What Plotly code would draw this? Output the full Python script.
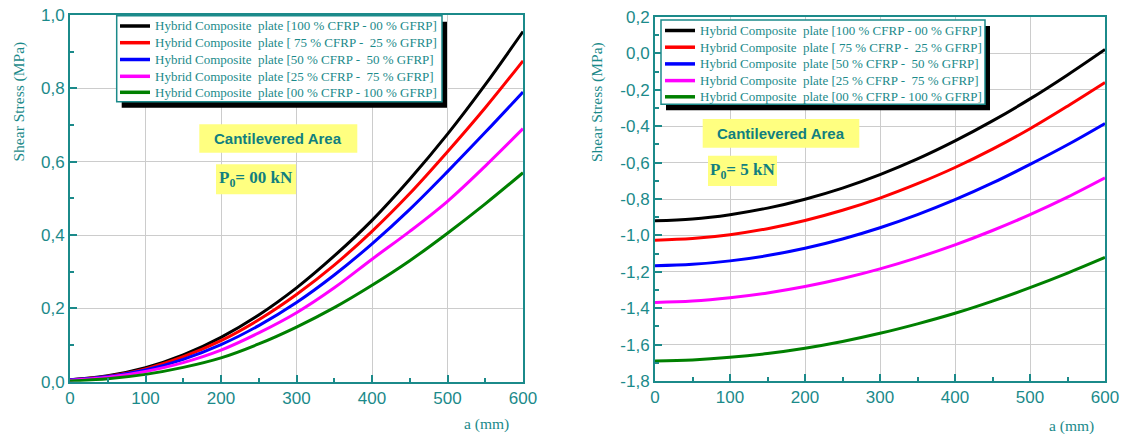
import plotly.graph_objects as go

# ---------------------------------------------------------------- data
a_mm = [0, 50, 100, 150, 200, 250, 300, 350, 400, 450, 500, 550, 600]

series_names = [
    "Hybrid Composite\u00a0 plate [100 % CFRP - 00 % GFRP]",
    "Hybrid Composite\u00a0 plate [ 75 % CFRP - \u00a025 % GFRP]",
    "Hybrid Composite\u00a0 plate [50 % CFRP - \u00a050 % GFRP]",
    "Hybrid Composite\u00a0 plate [25 % CFRP - \u00a075 % GFRP]",
    "Hybrid Composite\u00a0 plate [00 % CFRP - 100 % GFRP]",
]
series_colors = ["#000000", "#ff0000", "#0000ff", "#ff00ff", "#008000"]

# Shear stress (MPa), P0 = 00 kN
tau_p0_c100 = [0.005, 0.016, 0.038, 0.073, 0.121, 0.182, 0.256, 0.343, 0.440, 0.552, 0.675, 0.810, 0.955]
tau_p0_c75 = [0.005, 0.015, 0.035, 0.068, 0.112, 0.169, 0.238, 0.318, 0.410, 0.513, 0.627, 0.747, 0.875]
tau_p0_c50 = [0.005, 0.014, 0.032, 0.061, 0.101, 0.153, 0.216, 0.291, 0.376, 0.470, 0.573, 0.680, 0.790]
tau_p0_c25 = [0.004, 0.012, 0.028, 0.052, 0.086, 0.133, 0.188, 0.256, 0.334, 0.410, 0.492, 0.588, 0.690]
tau_p0_c00 = [0.002, 0.008, 0.020, 0.039, 0.065, 0.103, 0.149, 0.202, 0.263, 0.330, 0.405, 0.485, 0.570]

# Shear stress (MPa), P0 = 5 kN
tau_p5_c100 = [-0.920, -0.910, -0.886, -0.850, -0.801, -0.740, -0.666, -0.580, -0.481, -0.371, -0.250, -0.118, 0.022]
tau_p5_c75 = [-1.026, -1.017, -0.996, -0.963, -0.918, -0.862, -0.795, -0.716, -0.627, -0.526, -0.414, -0.290, -0.160]
tau_p5_c50 = [-1.167, -1.159, -1.140, -1.111, -1.071, -1.020, -0.958, -0.886, -0.804, -0.712, -0.610, -0.502, -0.385]
tau_p5_c25 = [-1.368, -1.360, -1.342, -1.316, -1.281, -1.237, -1.184, -1.122, -1.052, -0.973, -0.886, -0.790, -0.684]
tau_p5_c00 = [-1.690, -1.684, -1.670, -1.649, -1.620, -1.583, -1.538, -1.486, -1.428, -1.361, -1.287, -1.207, -1.121]

x_tickvals = [0, 100, 200, 300, 400, 500, 600]
x_ticktext = ["0", "100", "200", "300", "400", "500", "600"]
y_left_tickvals = [0.0, 0.2, 0.4, 0.6, 0.8, 1.0]
y_left_ticktext = ["0,0", "0,2", "0,4", "0,6", "0,8", "1,0"]
y_right_tickvals = [-1.8, -1.6, -1.4, -1.2, -1.0, -0.8, -0.6, -0.4, -0.2, 0.0, 0.2]
y_right_ticktext = ["-1,8", "-1,6", "-1,4", "-1,2", "-1,0", "-0,8", "-0,6", "-0,4", "-0,2", "0,0", "0,2"]

# ---------------------------------------------------------------- style
W, H = 1123, 434
TEAL = "#1b8a8a"
TEAL_DARK = "#117f7f"
YELLOW = "#ffff80"
SANS = "Liberation Sans, Arial, sans-serif"
SERIF = "Liberation Serif, Times New Roman, serif"


def px(x):
    return x / W


def py(y):
    return 1 - y / H


fig = go.Figure()

left_sets = [tau_p0_c100, tau_p0_c75, tau_p0_c50, tau_p0_c25, tau_p0_c00]
right_sets = [tau_p5_c100, tau_p5_c75, tau_p5_c50, tau_p5_c25, tau_p5_c00]

for name, color, vals in zip(series_names, series_colors, left_sets):
    fig.add_trace(go.Scatter(
        x=a_mm, y=vals, mode="lines", name=name,
        line=dict(color=color, width=3, shape="spline", smoothing=1.0),
        xaxis="x", yaxis="y", showlegend=False,
    ))
for name, color, vals in zip(series_names, series_colors, right_sets):
    fig.add_trace(go.Scatter(
        x=a_mm, y=vals, mode="lines", name=name,
        line=dict(color=color, width=3, shape="spline", smoothing=1.0),
        xaxis="x2", yaxis="y2", showlegend=False,
    ))

axis_common = dict(
    showline=True, linecolor=TEAL, linewidth=2, mirror=True,
    ticks="inside", ticklen=7, tickwidth=1.5, tickcolor=TEAL,
    showgrid=True, gridcolor="#cccccc", gridwidth=1,
    zeroline=False, automargin=False,
    tickfont=dict(family=SANS, size=17, color=TEAL),
    tickmode="array",
)
minor_x = dict(dtick=50, ticks="inside", ticklen=4, tickcolor=TEAL, showgrid=False)
minor_y = dict(dtick=0.1, ticks="inside", ticklen=4, tickcolor=TEAL, showgrid=False)

fig.update_layout(
    template="none",
    width=W, height=H,
    margin=dict(l=0, r=0, t=0, b=0, pad=0, autoexpand=False),
    paper_bgcolor="white", plot_bgcolor="white",
    showlegend=False,
    xaxis=dict(axis_common, domain=[px(70), px(523)], range=[0, 600],
               tickvals=x_tickvals, ticktext=x_ticktext, minor=minor_x, anchor="y"),
    yaxis=dict(axis_common, domain=[py(381.7), py(15)], range=[0, 1.0],
               tickvals=y_left_tickvals, ticktext=y_left_ticktext, minor=minor_y, anchor="x"),
    xaxis2=dict(axis_common, domain=[px(655), px(1105)], range=[0, 600],
                tickvals=x_tickvals, ticktext=x_ticktext, minor=minor_x, anchor="y2"),
    yaxis2=dict(axis_common, domain=[py(381), py(17)], range=[-1.8, 0.2],
                tickvals=y_right_tickvals, ticktext=y_right_ticktext, minor=minor_y, anchor="x2"),
)

shapes = []
annotations = []

# legend panels: box (x0, y0, x1, y1), row centres, sample line x-range, text start
legend_panels = [
    dict(box=(116.7, 15.7, 442.0, 101.7), rows=[26.0, 42.7, 59.5, 76.3, 92.3],
         line_x=(120.0, 150.0), text_x=153.0),
    dict(box=(661.0, 20.0, 985.0, 104.3), rows=[30.5, 47.2, 63.9, 80.6, 96.8],
         line_x=(665.0, 695.0), text_x=698.0),
]
for panel in legend_panels:
    x0, y0, x1, y1 = panel["box"]
    shapes.append(dict(type="rect", xref="paper", yref="paper",
                       x0=px(x0 + 5), x1=px(x1 + 5), y0=py(y1 + 6), y1=py(y0 + 6),
                       fillcolor="black", line=dict(width=0), layer="above"))
    shapes.append(dict(type="rect", xref="paper", yref="paper",
                       x0=px(x0), x1=px(x1), y0=py(y1), y1=py(y0),
                       fillcolor="white", line=dict(color=TEAL, width=1.5), layer="above"))
    for name, color, yc in zip(series_names, series_colors, panel["rows"]):
        lx0, lx1 = panel["line_x"]
        shapes.append(dict(type="line", xref="paper", yref="paper",
                           x0=px(lx0), x1=px(lx1), y0=py(yc), y1=py(yc),
                           line=dict(color=color, width=3.5), layer="above"))
        annotations.append(dict(
            text=name, xref="paper", yref="paper", x=px(panel["text_x"]), y=py(yc),
            xanchor="left", yanchor="middle", showarrow=False,
            font=dict(family=SERIF, size=13, color=TEAL),
        ))

# yellow label boxes
label_boxes = [
    (199.3, 124.3, 357.3, 152.7),
    (216.0, 164.3, 296.0, 194.3),
    (702.7, 119.0, 859.3, 147.7),
    (708.0, 155.7, 777.0, 186.0),
]
for (x0, y0, x1, y1) in label_boxes:
    shapes.append(dict(type="rect", xref="paper", yref="paper",
                       x0=px(x0), x1=px(x1), y0=py(y1), y1=py(y0),
                       fillcolor=YELLOW, line=dict(width=0), layer="above"))

labels = [("<b>Cantilevered Area</b>", SANS, 15),
          ("<b>P<sub>0</sub>= 00 kN</b>", SERIF, 17),
          ("<b>Cantilevered Area</b>", SANS, 15),
          ("<b>P<sub>0</sub>= 5 kN</b>", SERIF, 17)]
for (text, family, size), (x0, y0, x1, y1) in zip(labels, label_boxes):
    annotations.append(dict(
        text=text, xref="paper", yref="paper", x=px((x0 + x1) / 2), y=py((y0 + y1) / 2),
        xanchor="center", yanchor="middle", showarrow=False,
        font=dict(family=family, size=size, color=TEAL_DARK),
    ))

# axis titles
for xc in (18.5, 597):
    annotations.append(dict(
        text="Shear Stress (MPa)", xref="paper", yref="paper",
        x=px(xc), y=py(102), xanchor="center", yanchor="middle", textangle=-90,
        showarrow=False, font=dict(family=SERIF, size=15.5, color=TEAL),
    ))
for xc, yc in ((486, 424), (1071, 426)):
    annotations.append(dict(
        text="a (mm)", xref="paper", yref="paper",
        x=px(xc), y=py(yc), xanchor="center", yanchor="middle",
        showarrow=False, font=dict(family=SERIF, size=15.5, color=TEAL),
    ))

fig.update_layout(shapes=shapes, annotations=annotations)

fig.write_html("out.html")
